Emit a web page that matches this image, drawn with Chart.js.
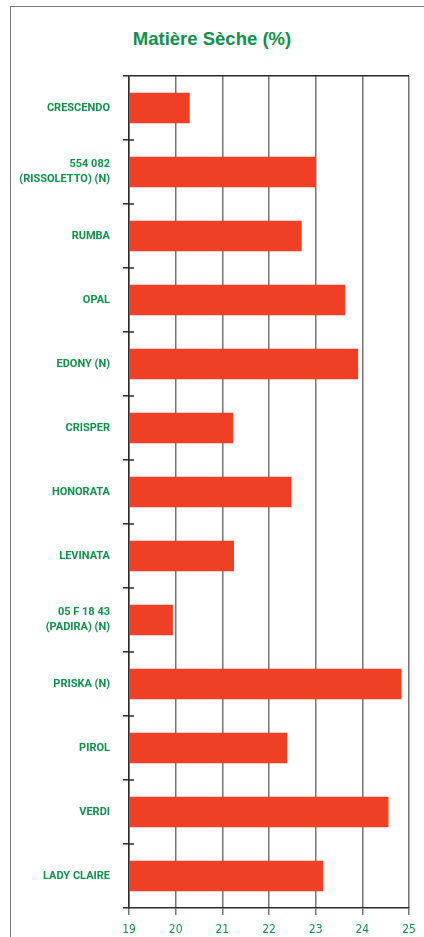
<!DOCTYPE html>
<html lang="fr">
<head>
  <meta charset="UTF-8" />
  <title>Matière Sèche (%)</title>
  <script src="https://cdn.jsdelivr.net/npm/chart.js"></script>
  <style>
    body {
      margin: 0;
      width: 424px;
      height: 937px;
      overflow: hidden;
      background: #fff;
      position: relative;
      font-family: 'Liberation Sans', Arial, sans-serif;
    }
    .cadre {
      position: absolute;
      left: 10px;
      top: 6px;
      width: 500px;
      height: 1000px;
      border-left: 1.5px solid #7a7a7a;
      border-top: 1.5px solid #7a7a7a;
    }
    .titre {
      position: absolute;
      top: 28px;
      left: 0;
      width: 424px;
      text-align: center;
      color: #0f924a;
      font-weight: bold;
      font-size: 18.5px;
    }
    .zone {
      position: absolute;
      left: 0;
      top: 0;
      width: 424px;
      height: 937px;
    }
  </style>
</head>
<body>

<div class="cadre"></div>
<div class="titre">Matière Sèche (%)</div>
<div class="zone"><canvas id="graphe"></canvas></div>

<script>
// variétés (de haut en bas)
const varietes = [
  'CRESCENDO',
  ['554 082', '(RISSOLETTO) (N)'],
  'RUMBA',
  'OPAL',
  'EDONY (N)',
  'CRISPER',
  'HONORATA',
  'LEVINATA',
  ['05 F 18 43', '(PADIRA) (N)'],
  'PRISKA (N)',
  'PIROL',
  'VERDI',
  'LADY CLAIRE'
];
// matière sèche en %
const matiereSeche = [20.3, 23.0, 22.7, 23.63, 23.91, 21.23, 22.48, 21.25, 19.94, 24.84, 22.39, 24.56, 23.16];
const echelleMin = 19, echelleMax = 25;

const vert = '#0f924a';
const policeEtroite = "'DejaVu Sans Condensed', sans-serif";

// petits traits de catégorie qui dépassent à droite de l'axe
const traitsCategories = {
  id: 'traitsCategories',
  afterDatasetsDraw(chart) {
    const y = chart.scales.y;
    const ctx = chart.ctx;
    ctx.save();
    ctx.strokeStyle = '#2b2b2b';
    ctx.lineWidth = 1.5;
    for (let i = 1; i < varietes.length; i++) {
      const py = (y.getPixelForValue(i - 1) + y.getPixelForValue(i)) / 2;
      ctx.beginPath();
      ctx.moveTo(y.right, py);
      ctx.lineTo(y.right + 5, py);
      ctx.stroke();
    }
    ctx.restore();
  }
};

new Chart(document.getElementById('graphe'), {
  type: 'bar',
  data: {
    labels: varietes,
    datasets: [{
      data: matiereSeche,
      base: echelleMin,
      backgroundColor: '#ef3f24',
      borderWidth: 0,
      barPercentage: 0.48,
      categoryPercentage: 1
    }]
  },
  options: {
    indexAxis: 'y',
    responsive: true,
    maintainAspectRatio: false,
    animation: false,
    layout: { padding: { top: 76, right: 15, left: 0, bottom: 0 } },
    plugins: {
      legend: { display: false },
      tooltip: { enabled: false }
    },
    scales: {
      x: {
        min: echelleMin,
        max: echelleMax,
        afterFit: (s) => { s.height = 29; },
        ticks: {
          stepSize: 1,
          color: vert,
          padding: 8,
          font: { family: policeEtroite, size: 12 }
        },
        grid: {
          color: '#747474',
          lineWidth: 1.5,
          tickLength: 7
        },
        border: { color: '#2b2b2b', width: 1.5 }
      },
      y: {
        afterFit: (s) => { s.width = 129; },
        ticks: {
          color: vert,
          padding: 13,
          font: { family: 'Roboto, sans-serif', size: 11, weight: 'bold', lineHeight: 1.35 }
        },
        grid: {
          offset: true,
          color: (ctx) => ctx.index === 0 ? '#2b2b2b' : 'rgba(0,0,0,0)',
          tickColor: '#2b2b2b',
          lineWidth: 1.5,
          tickLength: 6
        },
        border: { color: '#2b2b2b', width: 1.5 }
      }
    }
  },
  plugins: [traitsCategories]
});
</script>

</body>
</html>
